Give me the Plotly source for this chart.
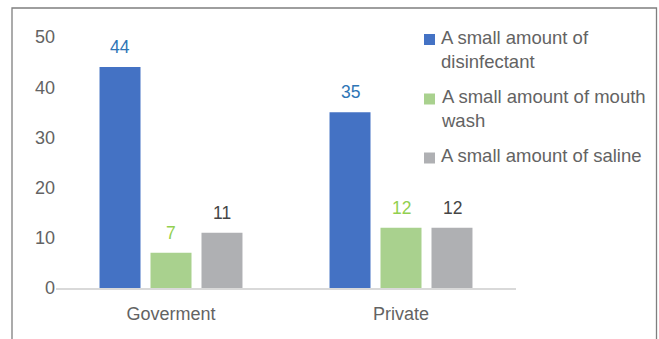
import plotly.graph_objects as go

categories = ["Goverment", "Private"]
series_names = [
    "A small amount of<br>disinfectant",
    "A small amount of mouth<br>wash",
    "A small amount of saline",
]
disinfectant = [44, 35]
mouth_wash = [7, 12]
saline = [11, 12]
series_values = [disinfectant, mouth_wash, saline]

bar_colors = ["#4472c4", "#a9d18e", "#afb0b3"]
label_colors = ["#2e75b6", "#92d050", "#454545"]
text_gray = "#636363"
font_family = "Liberation Sans, Arial, sans-serif"

W, H = 659, 339
M_L, M_R, M_T, M_B = 56, 143, 37, 51
plot_w = W - M_L - M_R
plot_h = H - M_T - M_B


def px_x(px):
    return (px - M_L) / plot_w


def px_y(py):
    return (H - M_B - py) / plot_h


fig = go.Figure()
for name, vals, col in zip(series_names, series_values, bar_colors):
    fig.add_trace(go.Bar(x=categories, y=vals, name=name,
                         marker=dict(color=col, line=dict(width=0)), showlegend=False))

# value labels above each bar, shifted to the bar's slot within its group
slot_px = 51
for i, (vals, lc) in enumerate(zip(series_values, label_colors)):
    for cat, v in zip(categories, vals):
        fig.add_annotation(x=cat, y=v, text=str(v), showarrow=False, xref="x", yref="y",
                           yanchor="bottom", yshift=8, xshift=(i - 1) * slot_px,
                           font=dict(size=17.5, color=lc, family=font_family))

# legend: coloured squares with wrapped labels
legend_rows = [39.5, 99, 158]
for name, col, cy in zip(series_names, bar_colors, legend_rows):
    fig.add_shape(type="rect", xref="paper", yref="paper",
                  x0=px_x(424), x1=px_x(435), y0=px_y(cy + 5.5), y1=px_y(cy - 5.5),
                  fillcolor=col, line=dict(width=0))
    fig.add_annotation(x=px_x(439), y=px_y(cy - 15), xref="paper", yref="paper",
                       xanchor="left", yanchor="top", align="left", showarrow=False,
                       text=name, font=dict(size=18.5, color=text_gray, family=font_family))

# outer frame
fig.add_shape(type="rect", xref="paper", yref="paper",
              x0=px_x(12), x1=px_x(656.5), y0=px_y(380), y1=px_y(8),
              line=dict(color="#7f7f7f", width=1.3), layer="below")

fig.update_layout(
    width=W, height=H,
    margin=dict(l=M_L, r=M_R, t=M_T, b=M_B, autoexpand=False),
    paper_bgcolor="white", plot_bgcolor="white",
    barmode="group", bargap=0.335, bargroupgap=0.196,
    font=dict(family=font_family, size=18, color=text_gray),
    showlegend=False,
    xaxis=dict(showline=True, linecolor="#d9d9d9", linewidth=2, showgrid=False, ticks="",
               ticklabelstandoff=8, tickfont=dict(size=18, color=text_gray)),
    yaxis=dict(range=[0, 50], dtick=10, showgrid=False, zeroline=False, showline=False, ticks="",
               tickfont=dict(size=18, color=text_gray)),
)

fig.write_html("out.html")
